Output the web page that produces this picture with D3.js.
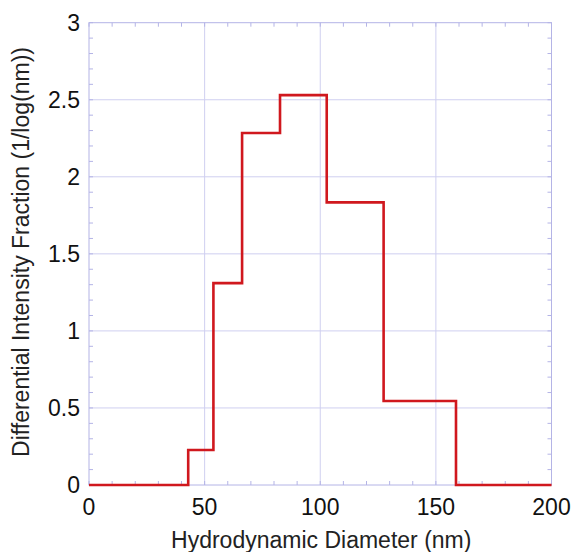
<!DOCTYPE html>
<html>
<head>
<meta charset="utf-8">
<script src="https://cdn.jsdelivr.net/npm/d3@7"></script>
<style>
  body { margin: 0; background: #fff; }
  svg { display: block; font-family: "Liberation Sans", Arial, sans-serif; }
</style>
</head>
<body>
<div id="container"></div>
<script>
// bin edges (nm) and step heights
const binEdges = [0, 42.9, 53.8, 66.2, 82.6, 102.8, 127.4, 158.7, 200];
const binValues = [0, 0.227, 1.31, 2.284, 2.53, 1.834, 0.545, 0];
const xTicks = [0, 50, 100, 150, 200];
const yTicks = [0, 0.5, 1, 1.5, 2, 2.5, 3];

const w = 574, h = 552;
const margin = { left: 89, right: 22.5, top: 22.7, bottom: 67 };

const svg = d3.select('#container').append('svg')
    .attr('width', w)
    .attr('height', h);

const x = d3.scaleLinear().domain([0, 200]).range([margin.left, w - margin.right]);
const y = d3.scaleLinear().domain([0, 3]).range([h - margin.bottom, margin.top]);

const gridColor = '#cfcff0';
const frameColor = '#b4b4e6';
const fontSize = 23;

// grid
svg.append('g').selectAll('line.gx')
    .data(xTicks.slice(1, -1))
    .join('line')
    .attr('x1', d => x(d)).attr('x2', d => x(d))
    .attr('y1', y(0)).attr('y2', y(3))
    .attr('stroke', gridColor).attr('stroke-width', 1);

svg.append('g').selectAll('line.gy')
    .data(yTicks.slice(1, -1))
    .join('line')
    .attr('y1', d => y(d)).attr('y2', d => y(d))
    .attr('x1', x(0)).attr('x2', x(200))
    .attr('stroke', gridColor).attr('stroke-width', 1);

// inside minor ticks on all four sides
const xMinor = d3.range(0, 201, 10);
const yMinor = d3.range(0, 31).map(i => i / 10);
const tickLen = 4;

const ticks = svg.append('g').attr('stroke', frameColor).attr('stroke-width', 1);
xMinor.forEach(v => {
    ticks.append('line').attr('x1', x(v)).attr('x2', x(v)).attr('y1', y(0)).attr('y2', y(0) - tickLen);
    ticks.append('line').attr('x1', x(v)).attr('x2', x(v)).attr('y1', y(3)).attr('y2', y(3) + tickLen);
});
yMinor.forEach(v => {
    ticks.append('line').attr('y1', y(v)).attr('y2', y(v)).attr('x1', x(0)).attr('x2', x(0) + tickLen);
    ticks.append('line').attr('y1', y(v)).attr('y2', y(v)).attr('x1', x(200)).attr('x2', x(200) - tickLen);
});

// frame
svg.append('rect')
    .attr('x', x(0)).attr('y', y(3))
    .attr('width', x(200) - x(0)).attr('height', y(0) - y(3))
    .attr('fill', 'none')
    .attr('stroke', frameColor).attr('stroke-width', 1);

// step line
const stepPts = [];
binValues.forEach((v, i) => {
    stepPts.push([binEdges[i], v]);
    stepPts.push([binEdges[i + 1], v]);
});
const line = d3.line().x(d => x(d[0])).y(d => y(d[1]));

svg.append('path')
    .datum(stepPts)
    .attr('d', line)
    .attr('fill', 'none')
    .attr('stroke', '#d0181e')
    .attr('stroke-width', 2.6)
    .attr('stroke-linejoin', 'miter');

// tick labels
svg.append('g').selectAll('text')
    .data(xTicks)
    .join('text')
    .attr('x', d => x(d))
    .attr('y', y(0) + 29.5)
    .attr('text-anchor', 'middle')
    .attr('font-size', fontSize)
    .attr('fill', '#111')
    .text(d => d);

svg.append('g').selectAll('text')
    .data(yTicks)
    .join('text')
    .attr('x', x(0) - 9)
    .attr('y', d => y(d) + 8)
    .attr('text-anchor', 'end')
    .attr('font-size', fontSize)
    .attr('fill', '#111')
    .text(d => d);

// axis titles
svg.append('text')
    .attr('x', (x(0) + x(200)) / 2 + 1)
    .attr('y', 548)
    .attr('text-anchor', 'middle')
    .attr('font-size', fontSize)
    .attr('fill', '#222')
    .text('Hydrodynamic Diameter (nm)');

svg.append('text')
    .attr('transform', `translate(29, 252) rotate(-90)`)
    .attr('text-anchor', 'middle')
    .attr('font-size', fontSize)
    .attr('fill', '#222')
    .text('Differential Intensity Fraction (1/log(nm))');
</script>
</body>
</html>
